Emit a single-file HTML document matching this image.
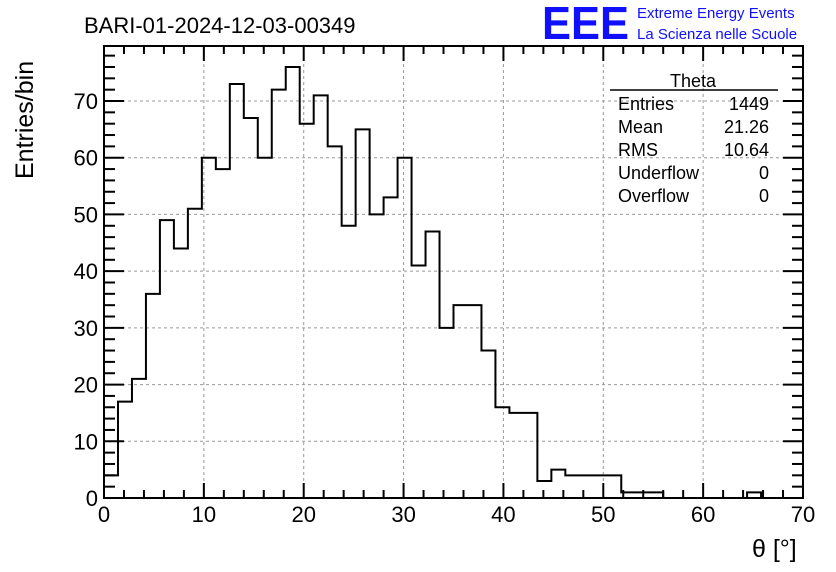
<!DOCTYPE html>
<html><head><meta charset="utf-8"><style>
body{margin:0;background:#fff;}
svg{display:block;font-family:"Liberation Sans",sans-serif;}
</style></head><body>
<svg id="c" width="836" height="572" viewBox="0 0 836 572">
<rect width="836" height="572" fill="#fff"/>
<g id="grid"></g>
<g id="hist"></g>
<g id="axes"></g>
<text x="84" y="33" font-size="22">BARI-01-2024-12-03-00349</text>
<text x="542" y="39" font-size="46" font-weight="bold" fill="#1010ff" textLength="87" lengthAdjust="spacingAndGlyphs">EEE</text>
<text x="637" y="18" font-size="15" fill="#1010ff">Extreme Energy Events</text>
<text x="637" y="39" font-size="15" fill="#1010ff">La Scienza nelle Scuole</text>
<text transform="translate(33,179) rotate(-90)" font-size="25">Entries/bin</text>
<text x="752" y="557" font-size="25">θ [°]</text>
<g>
<line x1="610" y1="90" x2="778" y2="90" stroke="#000" stroke-width="1.5"/>
<text x="693" y="87" font-size="18" text-anchor="middle">Theta</text>
<text x="618" y="110" font-size="18">Entries</text>
<text x="769" y="110" font-size="18" text-anchor="end">1449</text>
<text x="618" y="133" font-size="18">Mean</text>
<text x="769" y="133" font-size="18" text-anchor="end">21.26</text>
<text x="618" y="156" font-size="18">RMS</text>
<text x="769" y="156" font-size="18" text-anchor="end">10.64</text>
<text x="618" y="179" font-size="18">Underflow</text>
<text x="769" y="179" font-size="18" text-anchor="end">0</text>
<text x="618" y="202" font-size="18">Overflow</text>
<text x="769" y="202" font-size="18" text-anchor="end">0</text>
</g>
</svg>
<script>
const counts=[4,17,21,36,49,44,51,60,58,73,67,60,72,76,66,71,62,48,65,50,53,60,41,47,30,34,34,26,16,15,15,3,5,4,4,4,4,1,1,1,0,0,0,0,0,0,1,0,0,0];
const binWidth=1.4;
const xTicks=[0,10,20,30,40,50,60,70];
const yTicks=[0,10,20,30,40,50,60,70];
const X0=104,X1=803,Y0=498,Y1=46;
const xMin=0,xMax=70,yMin=0,yMax=79.7;
const sx=v=>X0+(v-xMin)/(xMax-xMin)*(X1-X0);
const sy=v=>Y0-(v-yMin)/(yMax-yMin)*(Y0-Y1);
const NS='http://www.w3.org/2000/svg';
function mk(tag,attrs,parent){const e=document.createElementNS(NS,tag);for(const k in attrs)e.setAttribute(k,attrs[k]);parent.appendChild(e);return e;}
const grid=document.getElementById('grid'),hist=document.getElementById('hist'),axes=document.getElementById('axes');
xTicks.forEach(t=>{if(t>xMin&&t<xMax){const l=mk('line',{x1:sx(t),x2:sx(t),y1:Y1,y2:Y0,stroke:'#999','stroke-dasharray':'3,3'},grid);

}});
yTicks.forEach(t=>{if(t>yMin){const l=mk('line',{x1:X0,x2:X1,y1:sy(t),y2:sy(t),stroke:'#999','stroke-dasharray':'3,3'},grid);

}});
let d='M'+sx(0)+','+sy(0);
counts.forEach((c,i)=>{d+=' L'+sx(i*binWidth)+','+sy(c)+' L'+sx((i+1)*binWidth)+','+sy(c);});
d+=' L'+sx(counts.length*binWidth)+','+sy(0);
const p=mk('path',{d:d,fill:'none',stroke:'#000','stroke-width':2},hist);


const fr=mk('rect',{x:X0,y:Y1,width:X1-X0,height:Y0-Y1,fill:'none',stroke:'#000','stroke-width':2},axes);


for(let v=0;v<=70;v+=2){const maj=v%10===0,len=maj?15:8;
mk('line',{x1:sx(v),x2:sx(v),y1:Y0,y2:Y0-len,stroke:'#000','stroke-width':2},axes);
mk('line',{x1:sx(v),x2:sx(v),y1:Y1,y2:Y1+len,stroke:'#000','stroke-width':2},axes);}
for(let v=0;v<=78;v+=2){const maj=v%10===0,len=maj?20:11;
mk('line',{x1:X0,x2:X0+len,y1:sy(v),y2:sy(v),stroke:'#000','stroke-width':2},axes);
mk('line',{x1:X1,x2:X1-len,y1:sy(v),y2:sy(v),stroke:'#000','stroke-width':2},axes);}
xTicks.forEach(t=>{const e=mk('text',{x:sx(t),y:522,'font-size':22,'text-anchor':'middle'},axes);e.textContent=t;

});
yTicks.forEach(t=>{const e=mk('text',{x:X0-6,y:sy(t)+8,'font-size':22,'text-anchor':'end'},axes);e.textContent=t;

});
</script>
</body></html>
